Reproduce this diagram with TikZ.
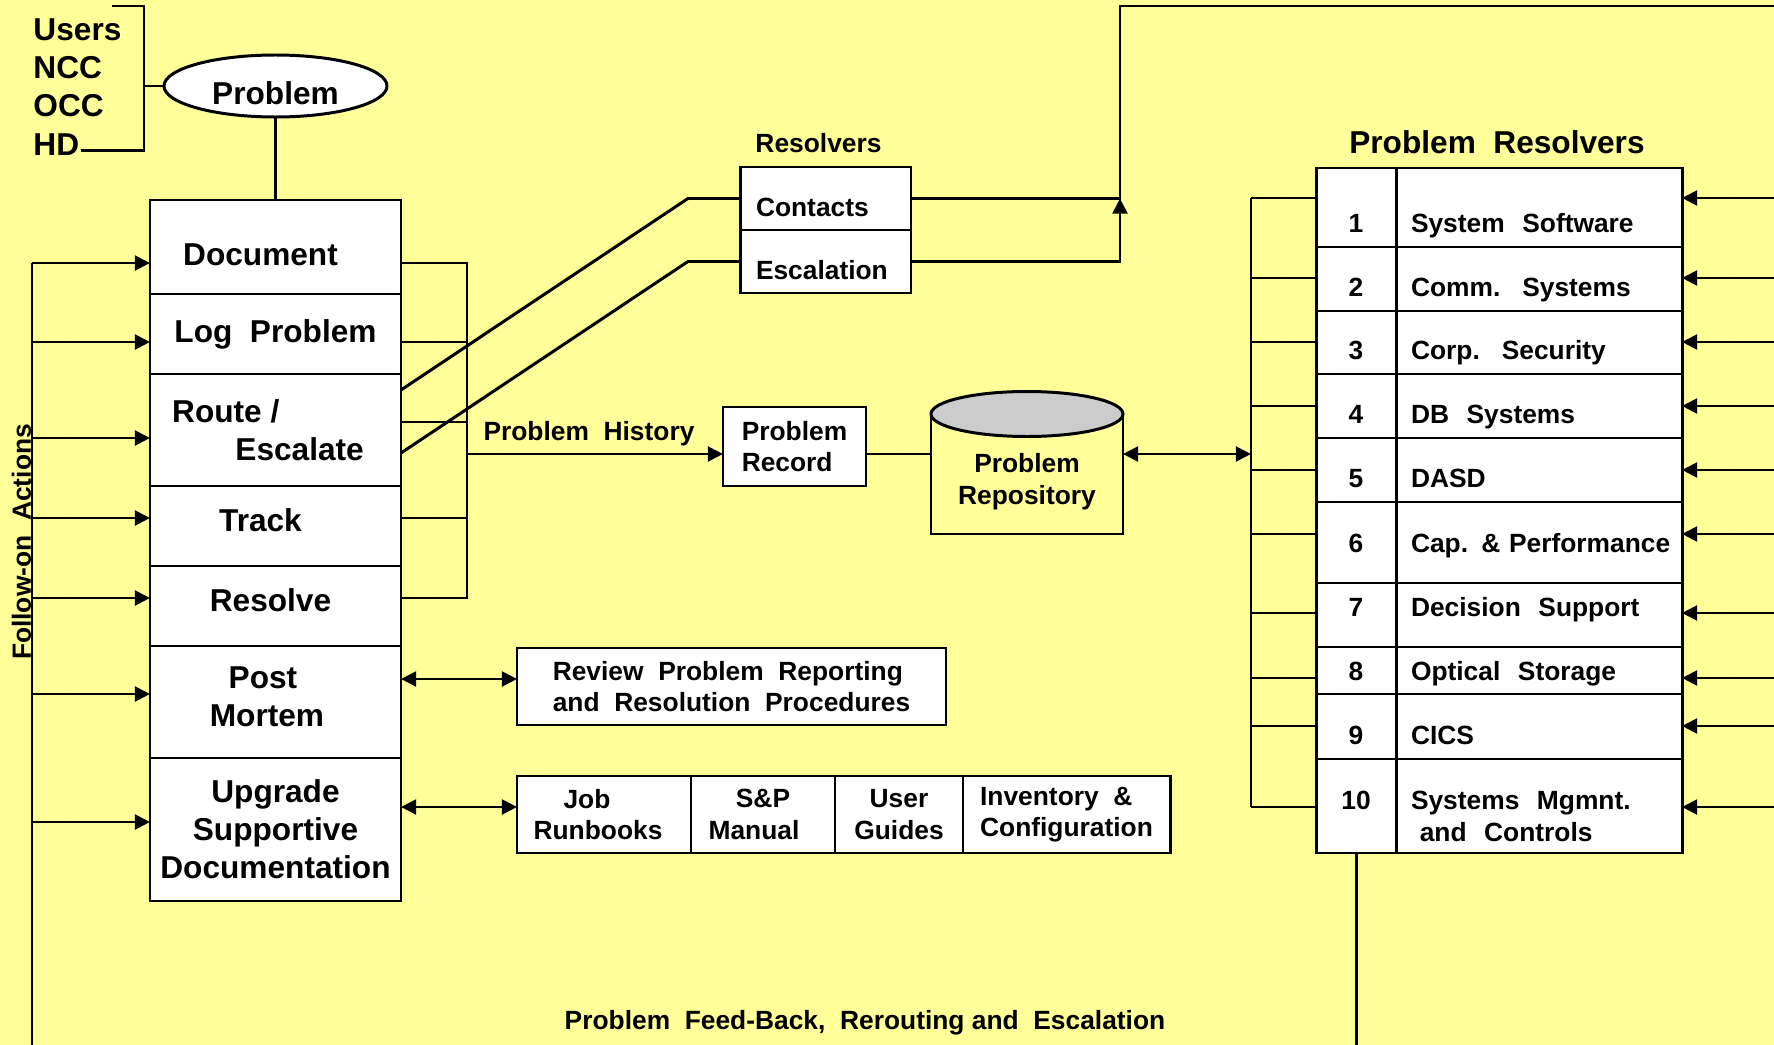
\documentclass[tikz,border=0pt]{standalone}
\usepackage{fontspec}
\setmainfont{Liberation Sans}
\usetikzlibrary{positioning,arrows.meta,shapes.geometric}

\definecolor{chartyellow}{HTML}{FFFF99}
\definecolor{diskgray}{HTML}{CCCCCC}

\newcommand{\boxfont}{\bfseries\fontsize{9}{10.8}\selectfont}
\newcommand{\notefont}{\bfseries\fontsize{7.5}{9}\selectfont}

\tikzset{
  stage/.style={draw, fill=white, outer sep=0pt, inner xsep=0pt, minimum width=2.51cm, align=center, font=\boxfont},
  lowtext/.style={text height=0.37cm, text depth=0pt},
  hightext/.style={text height=0.23cm, text depth=0.12cm},
  resbox/.style={draw, fill=white, outer sep=0pt, inner xsep=0.155cm, text width=1.395cm, minimum height=0.63cm, align=left, text height=0.36cm, text depth=0pt, font=\notefont},
  recbox/.style={draw, fill=white, outer sep=0pt, align=left, font=\notefont},
  doccell/.style={draw, fill=white, outer sep=0pt, inner sep=0pt, minimum height=0.77cm, align=center, font=\notefont},
  numcell/.style={draw, fill=white, outer sep=0pt, inner sep=0pt, minimum width=0.80cm, font=\notefont},
  namecell/.style={draw, fill=white, outer sep=0pt, inner xsep=0.15cm, inner ysep=0pt, text width=2.56cm, align=left, font=\notefont},
  midrow/.style={text height=0.35cm, text depth=0pt},
  toprow/.style={text height=0.50cm, text depth=0pt},
  centrow/.style={text height=0.19cm, text depth=0pt},
  highrow/.style={text height=0.19cm, text depth=0.16cm},
  lastrow/.style={text height=0.40cm, text depth=0.33cm},
  lbl/.style={inner sep=0pt, font=\boxfont},
  slbl/.style={font=\notefont}
}

\begin{document}
\begin{tikzpicture}[line width=0.85pt, >={Triangle[length=4.3pt,width=4.2pt]}]
  \useasboundingbox (0,0) rectangle (17.74,-10.45);
  \fill[chartyellow] (0,0) rectangle (17.74,-10.45);

  % loose ends of the lines that run off the sheet
  \coordinate (fb) at (0.32,-10.45);
  \coordinate (bedge) at (0,-10.45);
  \coordinate (redge) at (17.74,0);
  \coordinate (topline) at (17.74,-0.06);
  \coordinate (hist) at (0,-4.54);

  % who reports the problem
  \foreach \n/\y/\txt in {users/0.41/Users, ncc/0.785/NCC, occ/1.165/OCC, hd/1.55/HD}
    \node[lbl, anchor=base west] (\n) at (0.32,-\y) {\txt};
  \node[draw, fill=white, ellipse, minimum width=2.23cm, minimum height=0.62cm, inner sep=0pt, lowtext, font=\boxfont] (prob) at (2.755,-0.86) {Problem};
  \coordinate (brk) at (1.44,-0.06);
  \draw ([yshift=-0.06cm]hd.east) -| (brk) -- ++(-0.32,0);
  \draw (brk |- prob.west) -- (prob.west);

  % handling steps
  \node[stage, lowtext, minimum height=0.94cm, anchor=north] (doc) at (2.755,-2.00) {Document\hspace*{0.3cm}};
  \node[stage, minimum height=0.80cm, below=0pt of doc] (logp) {Log \ Problem};
  \node[stage, minimum height=1.12cm, below=0pt of logp, align=left] (route) {Route /\\\hspace*{2em}Escalate\hspace*{0.15cm}};
  \node[stage, hightext, minimum height=0.80cm, below=0pt of route] (track) {Track\hspace*{0.3cm}};
  \node[stage, hightext, minimum height=0.80cm, below=0pt of track] (resolve) {Resolve\hspace*{0.1cm}};
  \node[stage, text height=0.48cm, text depth=0pt, minimum height=1.12cm, below=0pt of resolve] (post) {Post\hspace*{0.25cm}\\Mortem\hspace*{0.17cm}};
  \node[stage, minimum height=1.43cm, below=0pt of post] (upgrade) {Upgrade\\Supportive\\Documentation};
  \draw (prob.south) -- (prob.south |- doc.north);

  % follow-on actions
  \draw (fb) -- (fb |- 0,-2.63);
  \foreach \n/\y in {doc/2.63, logp/3.42, route/4.38, track/5.18, resolve/5.98, post/6.94, upgrade/8.22}
    \draw[->] (fb |- 0,-\y) -- (\n.west |- 0,-\y);
  \node[slbl, rotate=90] (follow) at (0.215,-5.42) {Follow-on \ Actions};

  % problem history
  \coordinate (rbus) at (4.67,-2.63);
  \draw (doc.east |- rbus) -- (rbus) |- (resolve.east |- 0,-5.98);
  \foreach \n/\y in {logp/3.42, route/4.22, track/5.18}
    \draw (\n.east |- 0,-\y) -- (rbus |- 0,-\y);
  \node[recbox, minimum width=1.43cm, minimum height=0.79cm] (prec) at (7.945,-4.465) {Problem\\Record};
  \draw[->] (rbus |- hist) -- (prec.west |- hist) node[slbl, inner sep=1.8pt, midway, above, xshift=-0.06cm] (histlbl) {Problem \ History};

  % resolvers
  \node[slbl, inner sep=0pt] (reslbl) at (8.185,-1.43) {Resolvers};
  \node[resbox, anchor=north] (contacts) at (8.2575,-1.67) {Contacts};
  \node[resbox, below=0pt of contacts] (escal) {Escalation};
  \draw ([yshift=0.40cm]route.east) -- ([xshift=-0.525cm]contacts.west) -- (contacts.west);
  \draw ([yshift=-0.23cm]route.east) -- ([xshift=-0.525cm]escal.west) -- (escal.west);
  \coordinate (tj) at (11.20,-1.985);
  \draw (contacts.east) -- (tj) |- (topline);
  \draw[->] (escal.east) -| (tj);

  % repository
  \node[font=\notefont, align=center, minimum width=1.92cm, minimum height=1.20cm, inner sep=0pt, outer sep=0pt, text height=0.60cm, text depth=0pt] (repo) at (10.27,-4.74) {Problem\\Repository};
  \draw (repo.north west) |- (repo.south east) -- (repo.north east);
  \draw[fill=diskgray] (repo.north) ellipse [x radius=0.96cm, y radius=0.225cm];
  \draw (prec.east |- hist) -- (repo.west |- hist);

  % problem resolvers table
  \node[lbl] (prlbl) at (14.97,-1.42) {Problem \ Resolvers};
  \node[numcell, toprow, minimum height=0.79cm, anchor=north west] (rn1) at (13.16,-1.68) {1};
  \node[namecell, toprow, minimum height=0.79cm, right=0pt of rn1] (rt1) {System \ Software};
  \foreach \i/\h/\st/\name in {2/0.64/midrow/Comm. \ Systems, 3/0.63/midrow/Corp. \ Security,
      4/0.64/midrow/DB \ Systems, 5/0.64/midrow/DASD, 6/0.81/centrow/\mbox{Cap. \& Performance},
      7/0.64/highrow/Decision \ Support, 8/0.47/centrow/Optical \ Storage, 9/0.65/midrow/CICS,
      10/0.94/lastrow/Systems \ Mgmnt.\\\ and \ Controls}
  {
    \pgfmathtruncatemacro{\j}{\i-1}
    \node[numcell, \st, minimum height=\h cm, below=0pt of rn\j] (rn\i) {\i};
    \node[namecell, \st, minimum height=\h cm, right=0pt of rn\i] (rt\i) {\name};
  }
  \coordinate (lbus) at (12.51,-1.98);
  \draw (lbus) -- (lbus |- 0,-8.07);
  \foreach \i/\y in {1/1.98, 2/2.78, 3/3.42, 4/4.06, 5/4.70, 6/5.34, 7/6.13, 8/6.78, 9/7.26, 10/8.07}
  {
    \draw (lbus |- 0,-\y) -- (rn\i.west |- 0,-\y);
    \draw[->] (redge |- 0,-\y) -- (rt\i.east |- 0,-\y);
  }
  \draw[<->] (repo.east |- hist) -- (lbus |- hist);
  \draw (rn10.south) -- (rn10.south |- bedge);

  % post mortem and documentation
  \node[recbox, minimum width=4.29cm, minimum height=0.77cm] (review) at (7.315,-6.865) {Review \ Problem \ Reporting\\and \ Resolution \ Procedures};
  \node[doccell, minimum width=1.74cm, anchor=west, align=left] (jobs) at (5.17,-8.145) {\hspace*{0.3cm}Job\\Runbooks\hspace*{0.12cm}};
  \node[doccell, minimum width=1.44cm, right=0pt of jobs] (spman) {S\&P\\Manual\hspace*{0.18cm}};
  \node[doccell, minimum width=1.28cm, right=0pt of spman] (guides) {User\\Guides};
  \node[doccell, minimum width=2.07cm, right=0pt of guides, align=left] (inventory) {Inventory \ \&\\Configuration};
  \draw[<->] (post.east |- 0,-6.79) -- (review.west |- 0,-6.79);
  \draw[<->] (upgrade.east |- 0,-8.07) -- (jobs.west |- 0,-8.07);

  \node[slbl] (feedback) at (8.65,-10.23) {Problem \ Feed-Back, \ Rerouting and \ Escalation};
\end{tikzpicture}
\end{document}
